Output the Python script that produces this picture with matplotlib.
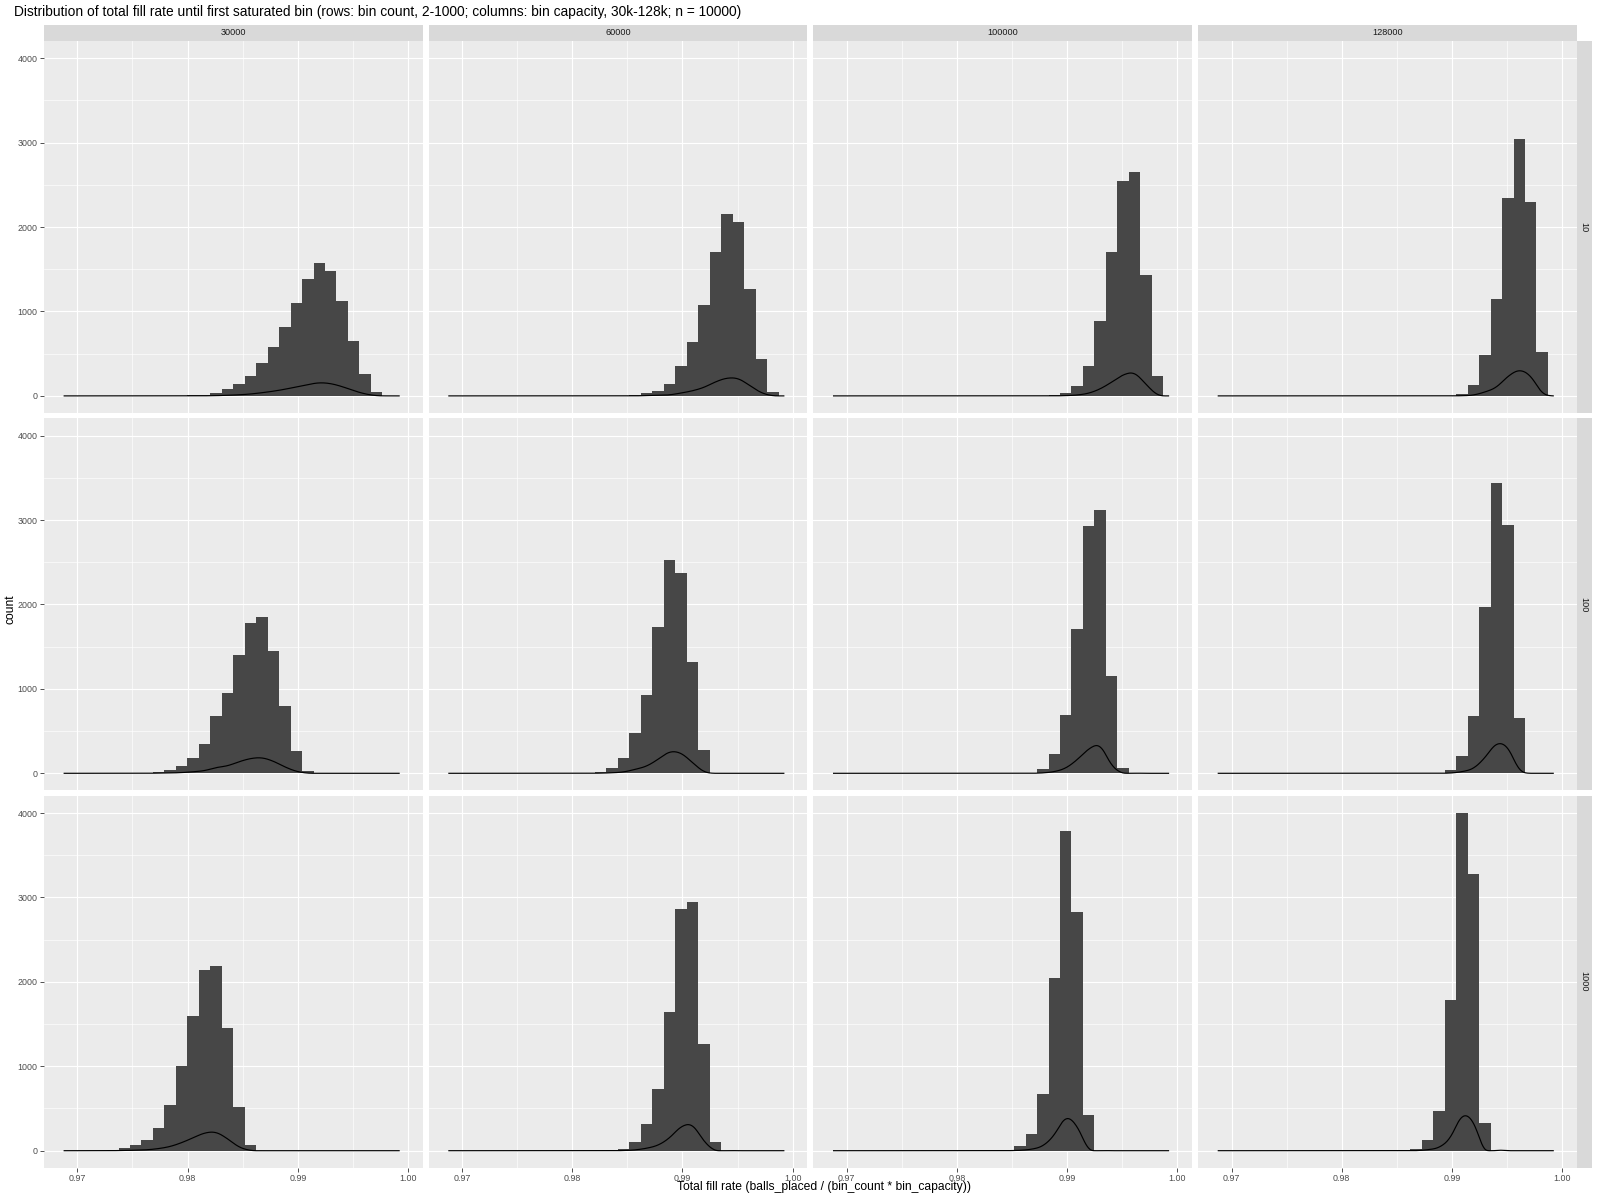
import numpy as np
import matplotlib
matplotlib.use("Agg")
import matplotlib.pyplot as plt

plt.rcParams['font.family'] = ['Liberation Sans', 'DejaVu Sans']

# ---------------- data ----------------
bin_capacities = ['30000', '60000', '100000', '128000']
bin_counts = ['10', '100', '1000']

# shared histogram binning (30 bins on the common x scale)
first_edge = 0.96853
bin_width = 0.001041
n_bins = 30
data_min, data_max = 0.9688, 0.9992   # extent of the density curves

x_ticks = [0.97, 0.98, 0.99, 1.00]
x_tick_labels = ['0.97', '0.98', '0.99', '1.00']
y_ticks = [0, 1000, 2000, 3000, 4000]
y_tick_labels = ['0', '1000', '2000', '3000', '4000']

#                     0  1  2  3  4  5  6  7  8  9   10  11  12  13  14   15   16   17   18   19    20    21    22    23    24    25    26    27   28  29
counts_10_30000   = [0, 0, 0, 0, 0, 0, 0, 0, 0, 1,   3,  6, 12, 32, 78, 138, 236, 390, 580, 818, 1100, 1385, 1577, 1482, 1124,  653,  260,   45,   3,  0]
counts_10_60000   = [0, 0, 0, 0, 0, 0, 0, 0, 0, 0,   0,  0,  0,  0,  0,   2,   6,  38,  62, 143,  356,  642, 1080, 1710, 2152, 2055, 1270,  439,  48,  0]
counts_10_100000  = [0, 0, 0, 0, 0, 0, 0, 0, 0, 0,   0,  0,  0,  0,  0,   0,   0,   0,   2,   6,   36,  120,  358,  890, 1700, 2540, 2658, 1437, 238,  0]
counts_10_128000  = [0, 0, 0, 0, 0, 0, 0, 0, 0, 0,   0,  0,  0,  0,  0,   0,   0,   0,   0,   0,    4,   22,  130,  487, 1142, 2340, 3040, 2292, 525,  0]

counts_100_30000  = [0, 0, 0, 0, 0, 0, 2, 4, 20, 44, 91, 186, 352, 677, 946, 1397, 1776, 1848, 1448, 795, 269, 32, 0, 0, 0, 0, 0, 0, 0, 0]
counts_100_60000  = [0, 0, 0, 0, 0, 0, 0, 0, 0, 0,   0,  0,  6, 20, 67, 186, 483, 922, 1729, 2524, 2370, 1314, 281, 0, 0, 0, 0, 0, 0, 0]
counts_100_100000 = [0, 0, 0, 0, 0, 0, 0, 0, 0, 0,   0,  0,  0,  0,  0,   0,   0,   3,  55, 225,  696, 1705, 2928, 3118, 1147, 67, 0, 0, 0, 0]
counts_100_128000 = [0, 0, 0, 0, 0, 0, 0, 0, 0, 0,   0,  0,  0,  0,  0,   0,   0,   0,   0,   5,   40,  210,  684, 1966, 3438, 2939, 661, 0, 0, 0]

counts_1000_30000  = [0, 0, 0, 2, 10, 30, 65, 123, 269, 538, 1001, 1594, 2140, 2188, 1452, 514, 65, 0, 0, 0, 0, 0, 0, 0, 0, 0, 0, 0, 0, 0]
counts_1000_60000  = [0, 0, 0, 0, 0, 0, 0, 0, 0, 0,   0,  0,  0,  0,  5,  24, 107, 313, 728, 1642, 2864, 2948, 1266, 99, 0, 0, 0, 0, 0, 0]
counts_1000_100000 = [0, 0, 0, 0, 0, 0, 0, 0, 0, 0,   0,  0,  0,  0,  0,  10,  51, 194, 669, 2045, 3790, 2829, 419, 0, 0, 0, 0, 0, 0, 0]
counts_1000_128000 = [0, 0, 0, 0, 0, 0, 0, 0, 0, 0,   0,  0,  0,  0,  0,   0,   3,  16, 123,  471, 1784, 4004, 3280, 324, 0, 0, 0, 0, 0, 0]

panel_counts = {
    ('10', '30000'): counts_10_30000, ('10', '60000'): counts_10_60000,
    ('10', '100000'): counts_10_100000, ('10', '128000'): counts_10_128000,
    ('100', '30000'): counts_100_30000, ('100', '60000'): counts_100_60000,
    ('100', '100000'): counts_100_100000, ('100', '128000'): counts_100_128000,
    ('1000', '30000'): counts_1000_30000, ('1000', '60000'): counts_1000_60000,
    ('1000', '100000'): counts_1000_100000, ('1000', '128000'): counts_1000_128000,
}

title = ("Distribution of total fill rate until first saturated bin "
         "(rows: bin count, 2-1000; columns: bin capacity, 30k-128k; n = 10000)")
x_label = "Total fill rate (balls_placed / (bin_count * bin_capacity))"
y_label = "count"

# ---------------- helpers ----------------
edges = first_edge + bin_width * np.arange(n_bins + 1)
centers = 0.5 * (edges[:-1] + edges[1:])


def density_from_hist(counts, xs, bw=0.00016):
    """Smooth density: derivative of a natural cubic spline through the
    empirical CDF at the bin edges, lightly Gaussian-smoothed."""
    c = np.asarray(counts, float)
    N = c.sum()
    h = bin_width
    y = np.concatenate([[0.0], np.cumsum(c)]) / N
    m = len(y)
    A = np.zeros((m, m))
    rhs = np.zeros(m)
    A[0, 0] = 1.0
    A[-1, -1] = 1.0
    for i in range(1, m - 1):
        A[i, i - 1] = 1.0
        A[i, i] = 4.0
        A[i, i + 1] = 1.0
        rhs[i] = 6.0 * (y[i + 1] - 2 * y[i] + y[i - 1]) / h ** 2
    M = np.linalg.solve(A, rhs)
    fine = np.linspace(edges[0] - 0.003, edges[-1] + 0.003, 4001)
    d = np.zeros_like(fine)
    inside = (fine >= edges[0]) & (fine <= edges[-1])
    f = fine[inside]
    idx = np.clip(((f - edges[0]) // h).astype(int), 0, n_bins - 1)
    xi, xi1 = edges[idx], edges[idx + 1]
    d[inside] = (-M[idx] * (xi1 - f) ** 2 / (2 * h) + M[idx + 1] * (f - xi) ** 2 / (2 * h)
                 + (y[idx + 1] - y[idx]) / h - (M[idx + 1] - M[idx]) * h / 6)
    d = np.clip(d, 0, None)
    dx = fine[1] - fine[0]
    k = np.arange(-int(4 * bw / dx), int(4 * bw / dx) + 1) * dx
    ker = np.exp(-0.5 * (k / bw) ** 2)
    ker /= ker.sum()
    ds = np.convolve(d, ker, mode='same')
    return np.interp(xs, fine, ds)


# ---------------- layout ----------------
W, H = 1600, 1200
fig = plt.figure(figsize=(16, 12), dpi=100)
fig.patch.set_facecolor('white')

left0, pw, gx = 44.0, 378.5, 6.2
top0, ph, gy = 41.0, 371.8, 5.6
strip_h = 16.5
strip_w = 15.4

xr = edges[-1] - edges[0]
xlim = (edges[0] - 0.05 * xr, edges[-1] + 0.05 * xr)
ymax = max(max(v) for v in panel_counts.values())
ylim = (-0.05 * ymax, ymax * 1.05)

xs = np.linspace(data_min, data_max, 512)

tick_col = '#4D4D4D'
text_col = '#1A1A1A'

for r, bc in enumerate(bin_counts):
    for c, cap in enumerate(bin_capacities):
        lx = left0 + c * (pw + gx)
        ty = top0 + r * (ph + gy)
        ax = fig.add_axes([lx / W, 1 - (ty + ph) / H, pw / W, ph / H])
        ax.set_facecolor('#EBEBEB')
        for s in ax.spines.values():
            s.set_visible(False)
        ax.set_axisbelow(True)
        ax.set_xlim(*xlim)
        ax.set_ylim(*ylim)
        ax.set_xticks(x_ticks)
        ax.set_xticks([0.975, 0.985, 0.995], minor=True)
        ax.set_yticks(y_ticks)
        ax.set_yticks([500, 1500, 2500, 3500], minor=True)
        ax.grid(which='major', color='white', linewidth=0.85)
        ax.grid(which='minor', color='white', linewidth=0.45)
        ax.tick_params(which='minor', length=0)
        ax.tick_params(which='major', colors='#333333', width=0.6, length=3.0,
                       labelsize=6.4, labelcolor=tick_col, pad=1.5)
        if c == 0:
            ax.set_yticklabels(y_tick_labels)
        else:
            ax.tick_params(axis='y', which='major', length=0, labelleft=False)
        if r == len(bin_counts) - 1:
            ax.set_xticklabels(x_tick_labels)
        else:
            ax.tick_params(axis='x', which='major', length=0, labelbottom=False)

        cnt = panel_counts[(bc, cap)]
        ax.bar(centers, cnt, width=bin_width, color='#474747', linewidth=0, zorder=2)
        dens = density_from_hist(cnt, xs)
        ax.plot(xs, dens, color='black', linewidth=0.85, zorder=3)

        # top strip
        if r == 0:
            sax = fig.add_axes([lx / W, 1 - ty / H, pw / W, strip_h / H])
            sax.set_facecolor('#D9D9D9')
            sax.set_xticks([]); sax.set_yticks([])
            for s in sax.spines.values():
                s.set_visible(False)
            sax.text(0.5, 0.5, cap, ha='center', va='center', fontsize=6.6,
                     color=text_col, transform=sax.transAxes)
        # right strip
        if c == len(bin_capacities) - 1:
            rax = fig.add_axes([(lx + pw) / W, 1 - (ty + ph) / H, strip_w / W, ph / H])
            rax.set_facecolor('#D9D9D9')
            rax.set_xticks([]); rax.set_yticks([])
            for s in rax.spines.values():
                s.set_visible(False)
            rax.text(0.5, 0.5, bc, ha='center', va='center', fontsize=6.6,
                     rotation=-90, color=text_col, transform=rax.transAxes)

fig.text(14 / W, 1 - 12 / H, title, ha='left', va='center', fontsize=9.9, color='black')
fig.text(824 / W, 1 - 1187 / H, x_label, ha='center',
         va='center', fontsize=8.7, color='black')
fig.text(10 / W, 1 - 609 / H, y_label, ha='center', va='center',
         rotation=90, fontsize=8.7, color='black')

fig.savefig('out.png', dpi=100, facecolor='white')
